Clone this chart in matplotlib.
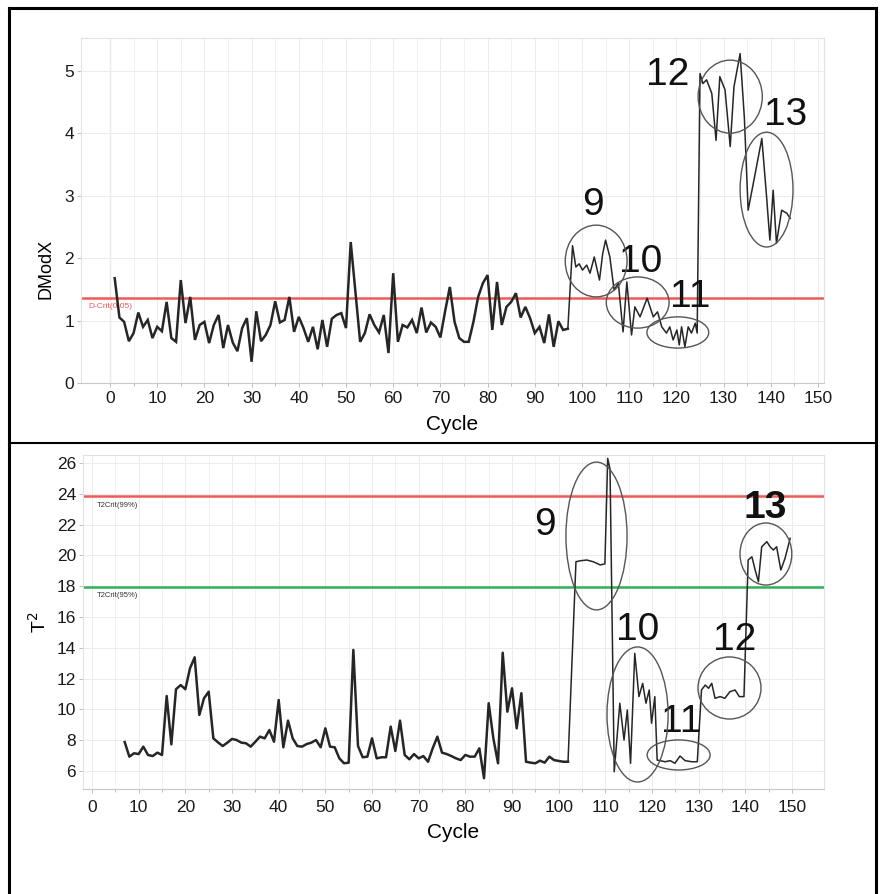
import numpy as np
import matplotlib
matplotlib.use("Agg")
import matplotlib.pyplot as plt
from matplotlib.patches import Ellipse
from matplotlib.lines import Line2D

plt.rcParams['font.family'] = ['Liberation Sans', 'DejaVu Sans']

# ---------------- data: DModX (top) ----------------
dmodx_pre = [1.68, 1.05, 0.98, 0.67, 0.80, 1.13, 0.90, 1.01, 0.72, 0.90, 0.83, 1.30, 0.72, 0.66,
             1.65, 0.96, 1.38, 0.69, 0.93, 0.98, 0.64, 0.93, 1.09,
             0.56, 0.93, 0.65, 0.51, 0.88, 1.04, 0.34, 1.15, 0.67, 0.77, 0.93, 1.31, 0.97, 1.01,
             1.38, 0.82, 1.06, 0.88, 0.66, 0.90, 0.54, 1.01, 0.58, 1.03, 1.09,
             1.12, 0.88, 2.26, 1.46, 0.66, 0.80, 1.10, 0.93, 0.81, 1.09, 0.48, 1.76, 0.66, 0.93,
             0.89, 1.01, 0.80, 1.21, 0.81, 0.97, 0.90, 0.73, 1.15, 1.54, 0.98,
             0.72, 0.66, 0.66, 0.98, 1.38, 1.60, 1.73, 0.85, 1.62, 0.93, 1.22, 1.30, 1.44, 1.05,
             1.22, 1.04, 0.80, 0.90, 0.64, 1.10, 0.58, 0.99, 0.85, 0.87]
cycle_top_pre = list(range(1, len(dmodx_pre) + 1))

cycle_top_post = [98.0, 98.7, 99.4, 100.1, 101.0, 101.7, 102.6, 103.7, 104.4, 105.0, 105.9, 106.8,
                  107.7, 108.7, 109.5, 110.5, 111.2, 112.3, 113.8, 115.1, 116.0, 116.9,
                  117.9, 118.6, 119.3, 120.1, 120.6, 121.1, 121.8, 122.5, 123.2, 124.0, 124.4,
                  125.0, 125.6, 126.4, 127.5, 128.4, 129.2, 130.3, 131.4, 132.2, 133.5, 134.4,
                  135.2, 136.7, 138.1, 139.1, 139.8, 140.5, 141.2, 142.3, 143.4, 144.1]
dmodx_post = [2.20, 1.86, 1.91, 1.81, 1.89, 1.76, 2.02, 1.65, 2.08, 2.29, 2.02, 1.49,
              1.60, 0.82, 1.62, 0.77, 1.22, 1.06, 1.36, 1.06, 1.14, 0.90,
              0.80, 0.90, 0.69, 0.85, 0.61, 0.90, 0.58, 0.90, 0.80, 0.96, 0.80,
              4.96, 4.80, 4.86, 4.64, 3.89, 4.91, 4.70, 3.79, 4.75, 5.28, 4.25,
              2.77, 3.36, 3.92, 2.99, 2.29, 3.09, 2.24, 2.77, 2.72, 2.64]
dcrit = 1.37

# ---------------- data: T2 (bottom) ----------------
t2_pre = [7.88, 6.93, 7.15, 7.10, 7.58, 7.04, 6.97, 7.19, 7.04, 10.87, 7.73, 11.31, 11.58, 11.31,
          12.67, 13.38, 9.64, 10.72, 11.15, 8.12, 7.86, 7.62, 7.84, 8.08, 8.01, 7.84, 7.80, 7.58,
          7.90, 8.23, 8.12, 8.66, 7.90, 10.61, 7.54, 9.27, 8.12, 7.62, 7.58, 7.75, 7.84, 8.01,
          7.54, 8.77, 7.58,
          7.54, 6.82, 6.50, 6.54, 13.86, 7.62, 6.89, 6.93, 8.12, 6.82, 6.89, 6.89, 8.88, 7.30,
          9.27, 7.04, 6.76, 7.10, 6.82, 6.97, 6.60, 7.47, 8.23, 7.19, 7.10, 6.97, 6.82, 6.71,
          7.04, 6.93, 6.93, 7.47, 5.53, 10.40, 8.12, 6.50, 13.68, 9.85, 11.37, 8.77, 11.05,
          6.60, 6.54, 6.50, 6.67, 6.54, 6.93, 6.71, 6.65, 6.60, 6.60]
cycle_bot_pre = list(range(7, 7 + len(t2_pre)))

cycle_bot_post = [103.7, 104.6, 106.0, 107.4, 108.9, 109.9, 110.5, 111.0, 111.9,
                  113.1, 114.0, 114.7, 115.4, 116.3, 117.2, 118.0, 118.7, 119.4, 119.9, 120.6, 121.1,
                  122.8, 123.9, 124.9, 126.0, 127.1, 128.5, 129.7,
                  130.6, 131.4, 132.1, 132.8, 133.5, 134.6, 135.6, 136.7, 137.8, 138.7, 139.7,
                  140.6, 141.4, 142.1, 142.8, 143.5, 144.6, 145.3, 146.0, 146.7, 147.6, 148.5, 149.6]
t2_post = [19.59, 19.65, 19.70, 19.59, 19.38, 19.45, 26.3, 25.6, 5.95,
           10.40, 8.01, 9.96, 6.50, 13.64, 10.83, 11.69, 10.40, 11.26, 9.10, 10.83, 6.71,
           6.60, 6.67, 6.50, 6.97, 6.67, 6.60, 6.60,
           11.26, 11.58, 11.37, 11.69, 10.72, 10.83, 10.72, 11.15, 11.26, 10.83, 10.83,
           19.70, 19.91, 19.05, 18.29, 20.56, 20.89, 20.56, 20.35, 20.56, 19.05, 19.81, 21.11]
t2crit99 = 23.85
t2crit95 = 17.95

x_ticks = list(range(0, 151, 10))
top_yticks = [0, 1, 2, 3, 4, 5]
bot_yticks = list(range(6, 27, 2))

# annotation groups: label, label position, ellipse center, ellipse size
top_groups = [("9", (102.3, 2.85), (103.0, 1.955), 13.1, 1.15),
              ("10", (112.5, 1.94), (111.8, 1.29), 13.3, 0.82),
              ("11", (122.9, 1.38), (120.3, 0.81), 13.1, 0.50),
              ("12", (118.2, 4.94), (131.4, 4.59), 13.6, 1.17),
              ("13", (143.2, 4.29), (139.1, 3.10), 11.2, 1.84)]
bot_groups = [("9", (97.1, 21.97), (108.1, 21.26), 13.1, 9.6),
              ("10", (117.0, 15.16), (116.9, 9.67), 13.1, 8.77),
              ("11", (126.2, 9.18), (125.7, 7.04), 13.5, 1.95),
              ("12", (137.8, 14.5), (136.6, 11.39), 13.5, 4.03),
              ("13", (144.2, 23.08), (144.4, 20.09), 11.1, 4.03)]

W, H = 880, 894
fig = plt.figure(figsize=(W / 100, H / 100), dpi=100)

ax1 = fig.add_axes([81 / W, 1 - 383 / H, 743 / W, 345 / H])
ax2 = fig.add_axes([83 / W, 1 - 789 / H, 741 / W, 334 / H])

LINE = '#262626'
RED = '#ee5a5a'
GREEN = '#33b15a'


def style(ax, yticks, xpad):
    ax.set_xticks(x_ticks)
    ax.set_xticks(list(range(5, 151, 10)), minor=True)
    ax.set_yticks(yticks)
    ax.grid(True, which='major', color='#ececec', lw=0.7)
    ax.grid(True, which='minor', axis='x', color='#f1f1f1', lw=0.7)
    for s in ax.spines.values():
        s.set_color('#e2e2e2')
        s.set_linewidth(0.8)
    ax.spines['bottom'].set_color('#c8c8c8')
    ax.tick_params(axis='both', which='both', colors='#bdbdbd', length=3, width=0.7,
                   labelcolor='#1a1a1a', labelsize=12.5, pad=2)
    ax.tick_params(axis='x', which='both', pad=xpad)
    ax.tick_params(axis='x', which='minor', length=2.5)
    ax.set_axisbelow(True)


# ---------------- top ----------------
style(ax1, top_yticks, 3)
ax1.set_xlim(-6.14, 151.27)
ax1.set_ylim(0, 5.53)
ax1.axvline(0, color='#d6d6d6', lw=0.9, zorder=0)
ax1.axhline(dcrit, color=RED, lw=1.8, zorder=2)
ax1.text(-4.6, dcrit - 0.09, "D-Crit(0.05)", color=RED, fontsize=6, va='top', ha='left')
ax1.plot(cycle_top_pre, dmodx_pre, color=LINE, lw=1.8, zorder=3, solid_joinstyle='miter')
ax1.plot([cycle_top_pre[-1]] + cycle_top_post, [dmodx_pre[-1]] + dmodx_post,
         color=LINE, lw=1.1, zorder=3)
ax1.set_xlabel("Cycle", fontsize=15, labelpad=6)
ax1.set_ylabel("DModX", fontsize=13)
ax1.yaxis.set_label_coords(-0.036, 0.33)
for lab, lpos, c, w, h in top_groups:
    ax1.add_patch(Ellipse(c, w, h, fill=False, edgecolor='#555555', lw=1.0, zorder=4))
    ax1.text(lpos[0], lpos[1], lab, fontsize=28, ha='center', va='center', color='#111111')

# ---------------- bottom ----------------
style(ax2, bot_yticks, 5)
ax2.set_xlim(-1.93, 156.85)
ax2.set_ylim(4.83, 26.52)
ax2.axhline(t2crit99, color=RED, lw=1.8, zorder=2)
ax2.axhline(t2crit95, color=GREEN, lw=1.8, zorder=2)
ax2.text(1.0, t2crit99 - 0.35, "T2Crit(99%)", color='#333333', fontsize=5.5, va='top', ha='left')
ax2.text(1.0, t2crit95 - 0.35, "T2Crit(95%)", color='#333333', fontsize=5.5, va='top', ha='left')
ax2.plot(cycle_bot_pre, t2_pre, color=LINE, lw=1.8, zorder=3)
ax2.plot([cycle_bot_pre[-1]] + cycle_bot_post, [t2_pre[-1]] + t2_post,
         color=LINE, lw=1.1, zorder=3)
ax2.set_xlabel("Cycle", fontsize=15, labelpad=6)
ax2.set_ylabel("T$^2$", fontsize=14)
ax2.yaxis.set_label_coords(-0.045, 0.5)
for lab, lpos, c, w, h in bot_groups:
    ax2.add_patch(Ellipse(c, w, h, fill=False, edgecolor='#555555', lw=1.0, zorder=4))
    ax2.text(lpos[0], lpos[1], lab, fontsize=28, ha='center', va='center', color='#111111',
             fontweight='bold' if lab == "13" else 'normal')

# ---------------- frame ----------------
L, R, T, D = 9 / W, 876 / W, 1 - 8 / H, 1 - 443 / H
fig.add_artist(Line2D([L, L], [0, T], color='black', lw=2.2, transform=fig.transFigure))
fig.add_artist(Line2D([R, R], [0, T], color='black', lw=2.2, transform=fig.transFigure))
fig.add_artist(Line2D([L, R], [T, T], color='black', lw=2.2, transform=fig.transFigure))
fig.add_artist(Line2D([L, R], [D, D], color='black', lw=1.5, transform=fig.transFigure))

fig.savefig("out.png", dpi=100)
